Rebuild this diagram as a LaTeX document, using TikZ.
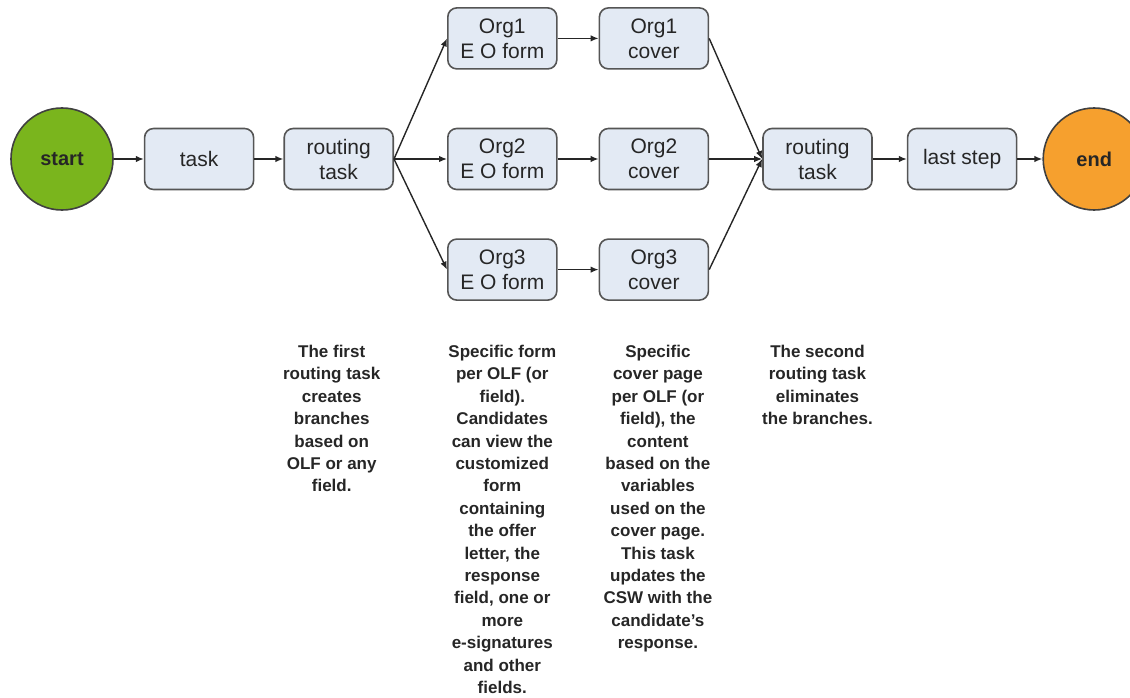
\documentclass[tikz,border=0pt]{standalone}
\usepackage{fontspec}
\setmainfont{Liberation Sans}
\usetikzlibrary{positioning, arrows.meta}
\definecolor{boxfill}{RGB}{227,234,244}
\definecolor{boxline}{RGB}{85,85,85}
\definecolor{startgreen}{RGB}{122,181,29}
\definecolor{endorange}{RGB}{246,160,46}
\tikzstyle{stepbox} = [rectangle, rounded corners=9pt, minimum width=109pt, minimum height=61pt, inner sep=0pt, text centered, align=center, draw=boxline, line width=1.6pt, fill=boxfill, text=black!85, font=\fontsize{21}{25}\selectfont]
\tikzstyle{terminal} = [circle, minimum size=102pt, inner sep=0pt, draw=black!75, line width=1.6pt, text=black!85, font=\fontsize{20}{24}\selectfont\bfseries]
\tikzstyle{note} = [align=center, anchor=north, inner sep=0pt, text=black!85, font=\fontsize{17}{22.4}\selectfont\bfseries]
\tikzstyle{arrow} = [line width=1.4pt, draw=black!85, -{Latex[length=8pt,width=6.5pt]}]

\begin{document}
\begin{tikzpicture}[x=1pt, y=1pt, node distance=30pt]
	\useasboundingbox (0,0) rectangle (1130,-698);

		\node (start) [terminal, fill=startgreen] at (62,-159) {start};
		\node (task) [stepbox, right=30pt of start] {task};
		\node (routeA) [stepbox, right=29pt of task] {routing\\task};

		\node (form2) [stepbox, right=53pt of routeA] {Org2\\E O form};
		\node (form1) [stepbox, above=58pt of form2] {Org1\\E O form};
		\node (form3) [stepbox, below=48pt of form2] {Org3\\E O form};
		\node (cover1) [stepbox, right=41pt of form1] {Org1\\cover};
		\node (cover2) [stepbox, right=41pt of form2] {Org2\\cover};
		\node (cover3) [stepbox, right=41pt of form3] {Org3\\cover};

		\node (routeB) [stepbox, right=53pt of cover2] {routing\\task};
		\node (last) [stepbox, right=34pt of routeB] {last step};
		\node (end) [terminal, fill=endorange, right=25pt of last] {end};

		% notes under the flow
		\coordinate (notes) at (0,-345);
		\node (noteA) [note, xshift=-7pt] at (notes -| routeA) {The first\\routing task\\creates\\branches\\based on\\OLF or any\\field.};
		\node (noteForm) [note] at (notes -| form3) {Specific form\\per OLF (or\\field).\\Candidates\\can view the\\customized\\form\\containing\\the offer\\letter, the\\response\\field, one or\\more\\e-signatures\\and other\\fields.};
		\node (noteCover) [note, xshift=4pt] at (notes -| cover3) {Specific\\cover page\\per OLF (or\\field), the\\content\\based on the\\variables\\used on the\\cover page.\\This task\\updates the\\CSW with the\\candidate's\\response.};
		\node (noteB) [note] at (notes -| routeB) {The second\\routing task\\eliminates\\the branches.};

		\draw[arrow] (start) -- (task);
		\draw[arrow] (task) -- (routeA);
		\draw[arrow] (routeA.east) -- (form1.west);
		\draw[arrow] (routeA.east) -- (form2.west);
		\draw[arrow] (routeA.east) -- (form3.west);
		\draw[arrow] (form1) -- (cover1);
		\draw[arrow] (form2) -- (cover2);
		\draw[arrow] (form3) -- (cover3);
		\draw[arrow] (cover1.east) -- (routeB.west);
		\draw[arrow] (cover2.east) -- (routeB.west);
		\draw[arrow] (cover3.east) -- (routeB.west);
		\draw[arrow] (routeB) -- (last);
		\draw[arrow] (last) -- (end);
	\end{tikzpicture}
\end{document}
